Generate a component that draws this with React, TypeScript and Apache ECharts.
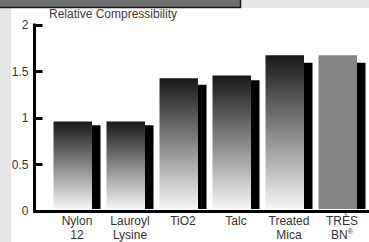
import React, { useEffect, useRef } from "react";
import * as echarts from "echarts";

const categories = ["Nylon\n12", "Lauroyl\nLysine", "TiO2", "Talc", "Treated\nMica", "TRÈS\nBN®"];
const mainValues = [0.95, 0.95, 1.42, 1.45, 1.67, 1.67];
const shadowValues = [0.91, 0.91, 1.35, 1.4, 1.59, 1.59];
const yTicks = [0, 0.5, 1, 1.5, 2];
const titleText = "Relative Compressibility";

const FONT = "'Liberation Sans', Arial, Helvetica, sans-serif";

export default function App() {
  const ref = useRef<HTMLDivElement>(null);
  useEffect(() => {
    if (!ref.current) return;
    const chart = echarts.init(ref.current, null, { renderer: "svg" });
    const grad = new echarts.graphic.LinearGradient(0, 0, 0, 1, [
      { offset: 0, color: "#181818" },
      { offset: 1, color: "#f6f6f6" },
    ]);
    const mainData = mainValues.map((v, i) =>
      i === categories.length - 1
        ? { value: v, itemStyle: { color: "#858585" } }
        : { value: v }
    );
    const option: any = {
      animation: false,
      backgroundColor: "#e6e6e6",
      title: {
        text: titleText,
        left: 49,
        top: 8,
        padding: 0,
        textStyle: { fontSize: 12, fontWeight: "normal", color: "#3a3a3a", fontFamily: FONT },
      },
      graphic: [
        { type: "rect", z: -10, shape: { x: 11, y: 8, width: 360, height: 236 }, style: { fill: "#ffffff" } },
        {
          type: "rect",
          z: -9,
          shape: { x: -2, y: -2, width: 242.5, height: 9.5 },
          style: { fill: "#707070", stroke: "#151515", lineWidth: 1.5 },
        },
      ],
      grid: [
        { left: 34.5, right: 0, top: 25, bottom: 31 },
        { left: 50.5, width: 318, top: 25, bottom: 31 },
      ],
      xAxis: [
        {
          gridIndex: 0,
          type: "value",
          min: 0,
          max: 1,
          axisLine: { show: true, lineStyle: { color: "#000", width: 3, cap: "square" } },
          axisTick: { show: false },
          axisLabel: { show: false },
          splitLine: { show: false },
        },
        {
          gridIndex: 1,
          type: "category",
          data: categories,
          axisLine: { show: false },
          axisTick: { show: false },
          axisLabel: {
            margin: 5,
            fontSize: 12,
            lineHeight: 14,
            color: "#333",
            fontFamily: FONT,
            interval: 0,
            formatter: (v: string) => {
              if (v.indexOf("®") >= 0) {
                const parts = v.split("\n");
                return parts[0] + "\n{b|" + parts[1].replace("®", "") + "}{s|®}";
              }
              return v;
            },
            rich: {
              b: { fontSize: 12, lineHeight: 14, color: "#333", fontFamily: FONT },
              s: { fontSize: 7, lineHeight: 14, color: "#333", fontFamily: FONT, verticalAlign: "top", padding: [0, 0, 6, 0] },
            },
          },
        },
      ],
      yAxis: [
        {
          gridIndex: 0,
          type: "value",
          min: 0,
          max: 2,
          interval: 0.5,
          axisLine: { show: true, lineStyle: { color: "#000", width: 3, cap: "square" } },
          axisTick: { show: true, inside: true, length: 8, lineStyle: { color: "#000", width: 3 } },
          axisLabel: {
            margin: 6,
            fontSize: 12,
            color: "#333",
            fontFamily: FONT,
            padding: [3, 0, 0, 0],
            customValues: yTicks,
            formatter: (v: number) => String(v),
          },
          splitLine: { show: false },
        },
        {
          gridIndex: 1,
          type: "value",
          min: 0,
          max: 2,
          show: false,
        },
      ],
      series: [
        {
          type: "bar",
          xAxisIndex: 1,
          yAxisIndex: 1,
          data: mainData,
          barWidth: 38.5,
          barGap: "0%",
          itemStyle: { color: grad },
        },
        {
          type: "bar",
          xAxisIndex: 1,
          yAxisIndex: 1,
          data: shadowValues,
          barWidth: 8.5,
          barGap: "0%",
          itemStyle: { color: "#000" },
        },
      ],
    };
    chart.setOption(option);
    return () => chart.dispose();
  }, []);
  return (
    <div style={{ position: "fixed", left: 0, top: 0, width: 369, height: 242 }}>
      <div ref={ref} style={{ width: 369, height: 242 }} />
    </div>
  );
}
